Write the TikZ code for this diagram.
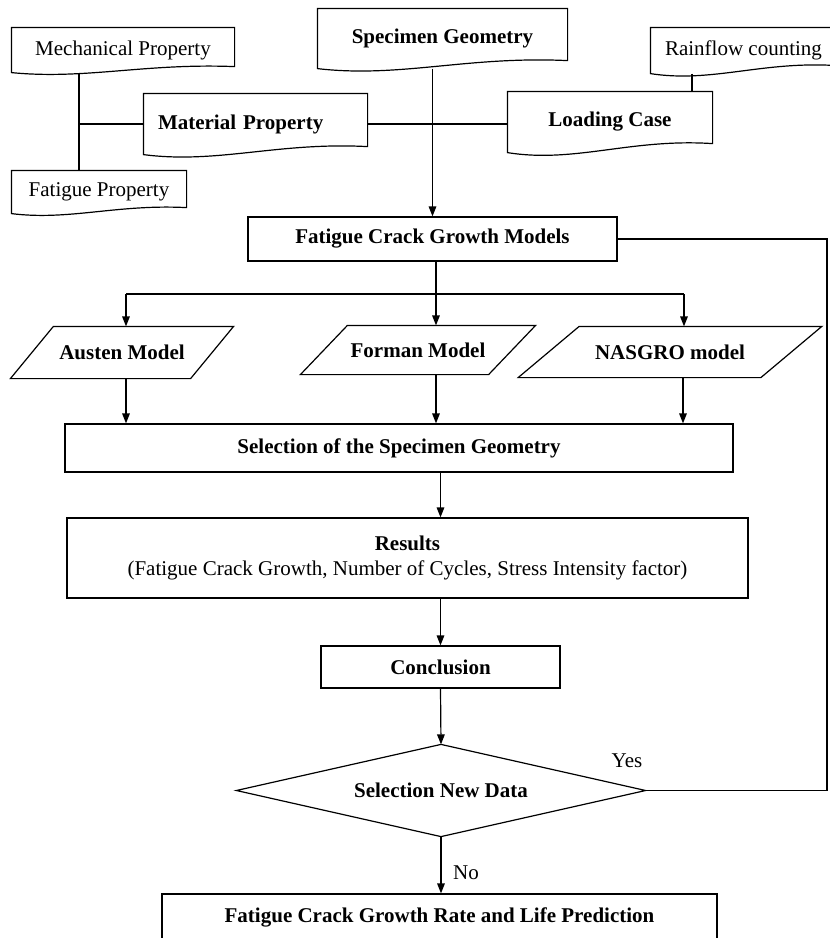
\documentclass[tikz,border=0pt]{standalone}
\usepackage{fontspec}
\setmainfont{Liberation Serif}
\usetikzlibrary{arrows.meta,calc}
\newcommand\docdraw[2]{%
  \draw (#1.south west) -- (#1.north west) -- (#1.north east) -- ([yshift=#2]#1.south east)
    .. controls ($(#1.south west)!0.6!(#1.south east)+(0,#2*1.6)$) and ($(#1.south west)!0.33!(#1.south east)+(0,-#2*1.2)$) .. (#1.south west) -- cycle;}
\newcommand\paradraw[2]{%
  \draw ([xshift=#2]#1.north west) -- ([xshift=#2]#1.north east) -- ([xshift=-#2]#1.south east) -- ([xshift=-#2]#1.south west) -- cycle;}
\newcommand\diadraw[1]{%
  \draw (#1.north) -- (#1.east) -- (#1.south) -- (#1.west) -- cycle;}
\begin{document}
\begin{tikzpicture}[x=0.5pt,y=-0.5pt,
  line width=0.6pt,
  every node/.style={font=\fontsize{10.5}{12.5}\selectfont, inner sep=0pt},
  box/.style={draw, rectangle},
  plain/.style={rectangle},
  arr/.style={-{Triangle[length=5pt,width=3.8pt]}}]
\useasboundingbox (0,0) rectangle (830,938);

% document-shaped nodes
\node[plain, minimum width=222*0.5pt, minimum height=44*0.5pt] (mech) at (123,50) {Mechanical Property};
\node[plain, minimum width=223*0.5pt, minimum height=60*0.5pt, inner xsep=7pt, text width=97.5pt, align=left] (mat) at (255.5,124) {\textbf{Material Property}};
\node[plain, minimum width=174*0.5pt, minimum height=42*0.5pt] (fat) at (99,192) {Fatigue Property};
\node[plain, minimum width=249*0.5pt, minimum height=59*0.5pt] (spec) at (442.5,38.5) {\raisebox{2.5pt}{\textbf{Specimen Geometry}}};
\node[plain, minimum width=185*0.5pt, minimum height=45*0.5pt] (rain) at (743.5,50.5) {Rainflow counting};
\node[plain, minimum width=204*0.5pt, minimum height=60*0.5pt] (load) at (610,122) {\textbf{Loading Case}};
\docdraw{mech}{3pt}
\docdraw{mat}{4pt}
\docdraw{fat}{3pt}
\docdraw{spec}{4pt}
\docdraw{rain}{4pt}
\docdraw{load}{4.5pt}

% main boxes
\node[box, minimum width=369*0.5pt, minimum height=44*0.5pt] (fcgm) at (432.5,239) {\textbf{Fatigue Crack Growth Models}};

\node[plain, minimum width=179*0.5pt, minimum height=51*0.5pt] (austen) at (122,352.5) {\textbf{Austen Model}};
\node[plain, minimum width=187*0.5pt, minimum height=48*0.5pt] (forman) at (418,350) {\textbf{Forman Model}};
\node[plain, minimum width=241.5*0.5pt, minimum height=50*0.5pt] (nasgro) at (670,352) {\textbf{NASGRO model}};
\paradraw{austen}{10.75pt}
\paradraw{forman}{11.75pt}
\paradraw{nasgro}{15.25pt}

\node[box, minimum width=668*0.5pt, minimum height=48*0.5pt] (sel) at (399,448) {\textbf{Selection of the Specimen Geometry}};
\node[box, minimum width=681*0.5pt, minimum height=80*0.5pt] (res) at (407.5,558) {\raisebox{3.75pt}{\begin{tabular}{@{}c@{}}\textbf{Results}\\(Fatigue Crack Growth, Number of Cycles, Stress Intensity factor)\end{tabular}}};
\node[box, minimum width=239*0.5pt, minimum height=42*0.5pt] (conc) at (440.5,667) {\textbf{Conclusion}};
\node[plain, minimum width=408*0.5pt, minimum height=91*0.5pt] (dia) at (441,790.5) {\textbf{Selection New Data}};
\diadraw{dia}
\node[box, minimum width=555*0.5pt, minimum height=46*0.5pt] (final) at (439.5,917) {\textbf{Fatigue Crack Growth Rate and Life Prediction}};

\node (yes) at (627,761) {Yes};
\node (no) at (466,873) {No};

% helper columns
\coordinate (cm) at (79,124);
\coordinate (cr) at (692,0);
\coordinate (br) at (436,294);
\coordinate (cA) at (126,0);
\coordinate (cC) at (684,0);
\coordinate (rr) at (827,0);

% top connectors
\draw (cm |- mech.south) -- (cm |- fat.north);
\draw (cm) -- (mat.west);
\draw (mat.east) -- (mat.east -| load.west);
\draw (cr |- rain.south) -- (cr |- load.north);
\draw[arr] (fcgm.north |- spec.south) -- (fcgm.north);

% branches
\draw[arr] (br |- fcgm.south) -- (br |- forman.north);
\draw (cA |- br) -- (cC |- br);
\draw[arr] (cA |- br) -- (cA |- austen.north);
\draw[arr] (cC |- br) -- (cC |- nasgro.north);
\draw[arr] (cA |- austen.south) -- (cA |- sel.north);
\draw[arr] (br |- forman.south) -- (br |- sel.north);
\draw[arr] ([xshift=-0.5pt]cC |- nasgro.south) -- ([xshift=-0.5pt]cC |- sel.north);

% main axis
\draw[arr] (sel.south -| conc.south) -- (res.north -| conc.south);
\draw[arr] (res.south -| conc.south) -- (conc.north);
\draw[arr] (conc.south) -- (dia.north);
\draw[arr] (dia.south) -- (final.north -| dia.south);

% loop back
\draw (fcgm.east) -- (rr |- fcgm.east) -- (rr |- dia.east) -- (dia.east);
\end{tikzpicture}
\end{document}
